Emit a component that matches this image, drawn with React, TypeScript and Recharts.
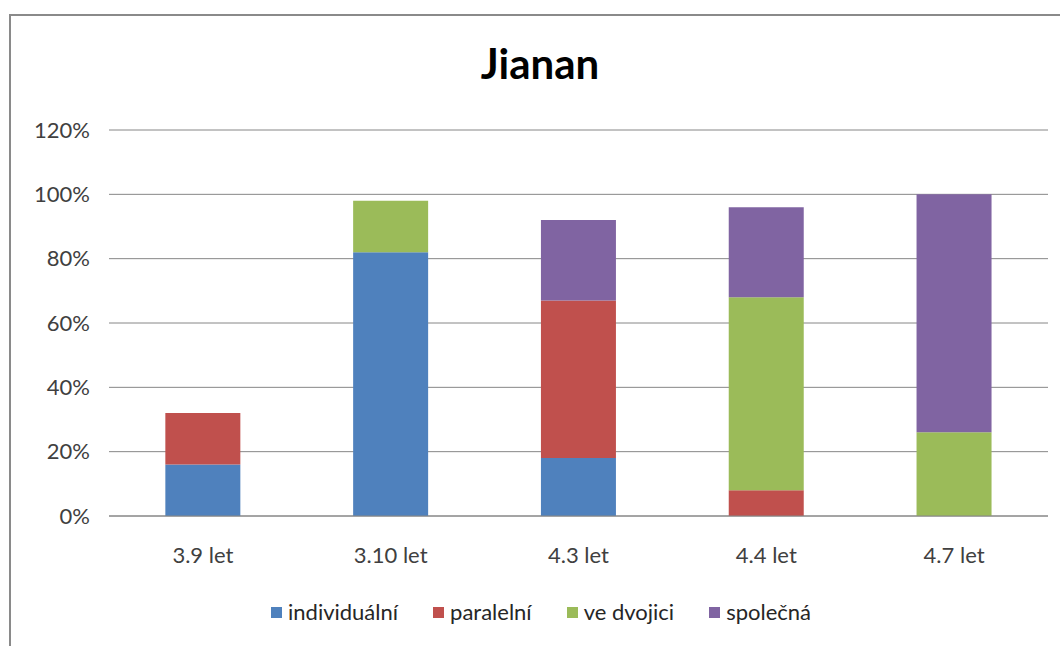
import React from "react";
import { BarChart, Bar, XAxis, YAxis, CartesianGrid, Legend } from "recharts";

const categories = ["3.9 let", "3.10 let", "4.3 let", "4.4 let", "4.7 let"];
const individualni = [0.16, 0.82, 0.18, 0, 0];
const paralelni = [0.16, 0, 0.49, 0.08, 0];
const veDvojici = [0, 0.16, 0, 0.6, 0.26];
const spolecna = [0, 0, 0.25, 0.28, 0.74];
const yTicks = [0, 0.2, 0.4, 0.6, 0.8, 1.0, 1.2];

const seriesNames = ["individuální", "paralelní", "ve dvojici", "společná"];
const seriesKeys = ["individualni", "paralelni", "veDvojici", "spolecna"];
const seriesColors = ["#4F81BD", "#C0504D", "#9BBB59", "#8064A2"];

const data = categories.map((c, i) => ({
  name: c,
  individualni: individualni[i],
  paralelni: paralelni[i],
  veDvojici: veDvojici[i],
  spolecna: spolecna[i],
}));

const FONT = "Lato, 'Open Sans', sans-serif";

const renderLegend = () => (
  <div
    style={{
      display: "flex",
      justifyContent: "center",
      alignItems: "center",
      gap: 35,
      fontFamily: FONT,
      fontSize: 22,
      lineHeight: "26px",
      height: 26,
      color: "#262626",
      paddingLeft: 22,
    }}
  >
    {seriesNames.map((n, i) => (
      <div key={n} style={{ display: "flex", alignItems: "center" }}>
        <span
          style={{
            display: "inline-block",
            width: 11,
            height: 11,
            background: seriesColors[i],
            marginRight: 6,
          }}
        />
        <span>{n}</span>
      </div>
    ))}
  </div>
);

export default function App() {
  return (
    <div
      style={{
        position: "absolute",
        left: 0,
        top: 0,
        width: 1060,
        height: 646,
        overflow: "hidden",
        background: "#fff",
      }}
    >
      <div
        style={{
          position: "absolute",
          left: 9,
          top: 14,
          width: 1100,
          height: 700,
          border: "2px solid #8a8a8a",
          boxSizing: "border-box",
        }}
      />
      <div
        style={{
          position: "absolute",
          left: 0,
          top: 38,
          width: 1080,
          textAlign: "center",
          fontFamily: FONT,
          fontWeight: "bold",
          fontSize: 42,
          lineHeight: 1.2,
          color: "#000",
        }}
      >
        Jianan
      </div>
      <div style={{ position: "absolute", left: 0, top: 0 }}>
        <BarChart
          width={1060}
          height={646}
          data={data}
          margin={{ top: 130, right: 12, bottom: 64, left: 0 }}
          barCategoryGap="30%"
        >
          <CartesianGrid vertical={false} stroke="#868686" strokeWidth={1} />
          <XAxis
            dataKey="name"
            axisLine={{ stroke: "#868686" }}
            tickLine={false}
            tickSize={0}
            tickMargin={31}
            height={40}
            tick={{ fill: "#404040", fontSize: 22, fontFamily: FONT }}
          />
          <YAxis
            domain={[0, 1.2]}
            ticks={yTicks}
            width={109}
            axisLine={false}
            tickLine={false}
            tickSize={0}
            tickMargin={19}
            tickFormatter={(v: number) => `${Math.round(v * 100)}%`}
            tick={{ fill: "#404040", fontSize: 22, fontFamily: FONT }}
          />
          <Legend
            content={renderLegend}
            wrapperStyle={{ position: "absolute", top: 599, left: 0, width: 1060, height: 26 }}
          />
          {seriesKeys.map((k, i) => (
            <Bar
              key={k}
              dataKey={k}
              name={seriesNames[i]}
              stackId="a"
              fill={seriesColors[i]}
              isAnimationActive={false}
            />
          ))}
        </BarChart>
      </div>
    </div>
  );
}
